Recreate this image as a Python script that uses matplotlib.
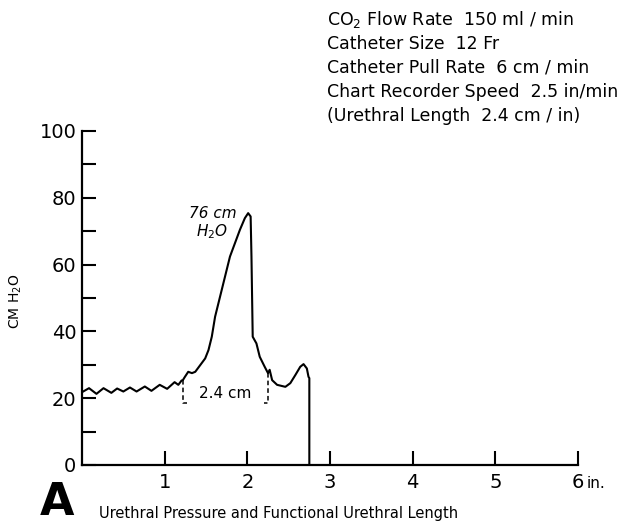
import numpy as np
import matplotlib
matplotlib.use("Agg")
import matplotlib.pyplot as plt

# pressure trace (inches of chart, cm H2O)
trace_x = [0.0, 0.085, 0.175, 0.26, 0.355, 0.425, 0.50, 0.58, 0.66, 0.76, 0.84,
           0.94, 1.03, 1.12, 1.165, 1.205, 1.22, 1.245, 1.285, 1.33, 1.37, 1.43,
           1.49, 1.53, 1.57, 1.61, 1.67, 1.73, 1.79, 1.85, 1.91, 1.97, 2.01,
           2.04, 2.05, 2.065, 2.11, 2.15, 2.21, 2.25, 2.27, 2.30, 2.36, 2.46,
           2.52, 2.58, 2.64, 2.68, 2.72, 2.74, 2.75, 2.75]
trace_y = [21.8, 23.0, 21.3, 23.0, 21.6, 22.9, 22.0, 23.2, 22.0, 23.5, 22.2,
           24.0, 22.8, 24.8, 24.0, 25.3, 25.4, 26.4, 27.9, 27.5, 27.9, 29.9,
           31.9, 34.4, 38.4, 44.4, 50.4, 56.4, 62.4, 66.4, 70.4, 73.9, 75.4,
           74.4, 62.4, 38.4, 36.4, 32.4, 29.4, 27.5, 28.5, 25.4, 24.0, 23.4,
           24.5, 26.9, 29.4, 30.2, 28.9, 26.4, 26.0, 0.0]

# functional length bracket
fl_start = 1.22
fl_end = 2.25
fl_bottom = 18.5

x_ticks = [1, 2, 3, 4, 5, 6]
x_labels = ["1", "2", "3", "4", "5", "6"]
y_major = [0, 20, 40, 60, 80, 100]
y_minor = [10, 30, 50, 70, 90]

settings = ["CO$_2$ Flow Rate  150 ml / min",
            "Catheter Size  12 Fr",
            "Catheter Pull Rate  6 cm / min",
            "Chart Recorder Speed  2.5 in/min",
            "(Urethral Length  2.4 cm / in)"]

fig = plt.figure(figsize=(6.25, 5.29), dpi=100)
ax = fig.add_axes([0.1312, 0.121, 0.7936, 0.6314])

ax.plot(trace_x, trace_y, color="black", lw=1.5, solid_joinstyle="round")

# dashed bracket for 2.4 cm
ax.plot([fl_start, fl_start, fl_start + 0.05], [25.4, fl_bottom, fl_bottom],
        color="black", lw=1.1, ls=(0, (3, 2)))
ax.plot([fl_end, fl_end, fl_end - 0.05], [27.5, fl_bottom, fl_bottom],
        color="black", lw=1.1, ls=(0, (3, 2)))
ax.text((fl_start + fl_end) / 2, 21.5, "2.4 cm", ha="center", va="center", fontsize=11)

ax.text(1.58, 75.3, "76 cm", ha="center", va="center", fontsize=11, style="italic")
ax.text(1.57, 69.8, "H$_2$O", ha="center", va="center", fontsize=11, style="italic")

ax.set_xlim(0, 6)
ax.set_ylim(0, 100)
ax.spines["top"].set_visible(False)
ax.spines["right"].set_visible(False)
ax.spines["left"].set_linewidth(1.6)
ax.spines["bottom"].set_linewidth(1.6)

ax.set_xticks(x_ticks)
ax.set_xticklabels(x_labels)
ax.set_yticks(y_major)
ax.set_yticks(y_minor, minor=True)
ax.tick_params(axis="both", which="both", direction="in", length=10, width=1.5,
               labelsize=14)
ax.tick_params(axis="x", pad=6)
ax.tick_params(axis="y", pad=4)
ax.text(6.1, -0.056, "in.", transform=ax.get_xaxis_transform(), fontsize=11,
        ha="left", va="center")

fig.text(0.026, 0.43, "CM H$_2$O", rotation=90, ha="center", va="center", fontsize=10)

for i, line in enumerate(settings):
    fig.text(0.523, 1 - (20 + 24 * i) / 529, line, ha="left", va="center",
             fontsize=12.5)

fig.text(0.091, 0.05, "A", fontsize=32, fontweight="bold", ha="center", va="center")
fig.text(0.446, 0.03, "Urethral Pressure and Functional Urethral Length",
         ha="center", va="center", fontsize=10.5)

fig.savefig("out.png", dpi=100)
